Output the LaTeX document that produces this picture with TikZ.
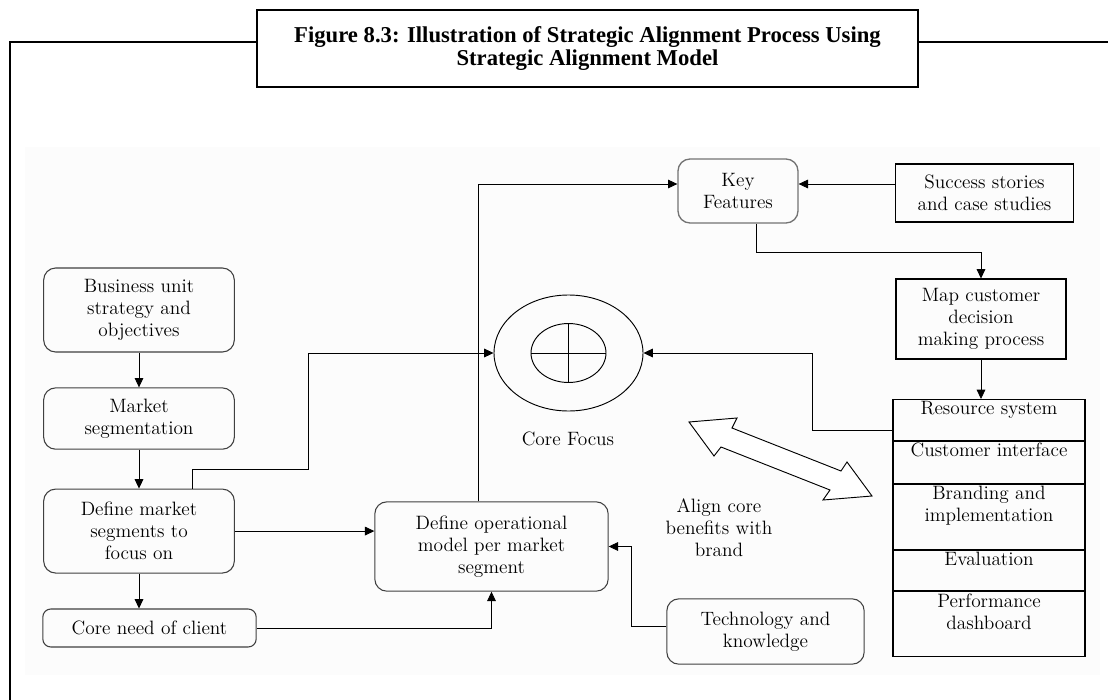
\documentclass[tikz,border=0pt]{standalone}
\usepackage{fontspec}
\newfontfamily\titlefont{Liberation Serif}
\usetikzlibrary{arrows.meta,shapes.geometric,positioning}
\tikzset{
	rbox/.style={rectangle, rounded corners=9pt, draw=black!75, line width=0.8pt, align=center, inner sep=2pt},
	sbox/.style={rectangle, draw, line width=0.8pt, align=center, inner sep=2pt},
	cell/.style={rectangle, draw, line width=0.8pt, minimum width=144pt, inner sep=0pt},
	celltext/.style={anchor=north, inner sep=1.5pt, font=\fontsize{14.5}{16.5}\selectfont},
	arr/.style={-{Triangle[length=7pt,width=6.5pt]}, line width=0.6pt},
}
\begin{document}
\begin{tikzpicture}[x=0.75pt, y=-0.75pt, font=\fontsize{14.5}{16.5}\selectfont]
	\useasboundingbox (0,0) rectangle (1108,700);
	\fill[black!1] (25,147) rectangle (1100,675);
	% frame and title
	\draw[line width=1.6pt] (10,700) -- (10,42) -- (257,42);
	\draw[line width=1.6pt] (918,42) -- (1108,42);
	\draw node[rectangle, draw, line width=1.6pt, minimum width=495.75pt, minimum height=57.75pt, align=center,
		font=\titlefont\bfseries\fontsize{17}{17.5}\selectfont, fill=white] (title) at (587.5,48.5)
		{Figure 8.3: Illustration of Strategic Alignment Process Using\\Strategic Alignment Model};
	% left column
	\draw node[rbox, minimum width=143pt, minimum height=63pt] (bus) at (139,310) {Business unit\\strategy and\\objectives};
	\draw node[rbox, minimum width=143pt, minimum height=46pt]
		[below of=bus, node distance=81.4pt] (seg) {Market\\segmentation};
	\draw node[rbox, minimum width=143pt, minimum height=63pt]
		[below of=seg, node distance=84.4pt] (dms) {Define market\\segments to\\focus on};
	\draw node[rbox, rounded corners=6pt, minimum width=160pt, minimum height=28.5pt] (need) at (149.5,628) {Core need of client};
	\draw node[rbox, minimum width=175pt, minimum height=67pt] (opm) at (491.5,546.5) {Define operational\\model per market\\segment};
	% core focus
	\draw node[ellipse, draw, line width=0.7pt, minimum width=111.75pt, minimum height=87pt] (outer) at (568.5,353) {};
	\draw node[ellipse, draw, line width=0.7pt, minimum width=56.25pt, minimum height=44.25pt] (inner) at (568.5,353) {};
	\draw[line width=0.7pt] (inner.north) -- (inner.south);
	\draw[line width=0.7pt] (inner.west) -- (inner.east);
	\draw node (focus) at (568,439) {Core Focus};
	\draw node[align=center] (align) at (719,528) {Align core\\benefits with\\brand};
	% right side
	\draw node[rbox, draw=black!55, line width=1pt, minimum width=90pt, minimum height=48pt] (key) at (738,191) {Key\\Features};
	\draw node[sbox, minimum width=133pt, minimum height=43.5pt] (succ) at (984.5,193) {Success stories\\and case studies};
	\draw node[sbox, minimum width=127.5pt, minimum height=60pt] (map) at (981,319) {Map customer\\decision\\making process};
	\draw node[rbox, minimum width=148pt, minimum height=49pt] (tech) at (765.5,631.5) {Technology and\\knowledge};
	% stacked column
	\draw node[cell, anchor=north, minimum height=30.75pt, label={[celltext]north:Resource system}] (res) at (989,399) {};
	\draw node[cell, anchor=north, minimum height=31.5pt, label={[celltext]north:Customer interface}] (cust) at (res.south) {};
	\draw node[cell, anchor=north, minimum height=48.75pt, label={[celltext, align=center]north:Branding and\\implementation}] (brand) at (cust.south) {};
	\draw node[cell, anchor=north, minimum height=30pt, label={[celltext]north:Evaluation}] (eval) at (brand.south) {};
	\draw node[cell, anchor=north, minimum height=48.75pt, label={[celltext, align=center]north:Performance\\dashboard}] (perf) at (eval.south) {};
	% double arrow
	\draw[line width=0.7pt, fill=white] (689,422) -- (737,418) -- (732,428) -- (841,471) -- (847,462) -- (872,496)
		-- (823,500) -- (830,490) -- (721,447) -- (714,456) -- cycle;
	% connectors
	\draw[arr] (bus) -- (seg);
	\draw[arr] (seg) -- (dms);
	\draw[arr] (dms.south) -- (dms.south |- need.north);
	\draw[arr] (dms.east) -- (dms.east -| opm.west);
	\draw[arr] (need.east) -| (opm.south);
	\draw[arr] ([xshift=40pt]dms.north) |- (308,469) |- (outer.west);
	\draw[arr] ([xshift=-10pt]opm.north) |- ([yshift=5.25pt]key.west);
	\draw[arr] ([yshift=6.75pt]succ.west) -- ([yshift=5.25pt]key.east);
	\draw[arr] ([xshift=13.5pt]key.south) -- ++(0,29) -| (map.north);
	\draw[arr] (map.south) -- (map.south |- res.north);
	\draw[arr] ([yshift=-8pt]res.west) -| (812,353) -- (outer.east);
	\draw[arr] ([yshift=4pt]tech.west) -| (631,546.5) -- (opm.east);
\end{tikzpicture}
\end{document}
